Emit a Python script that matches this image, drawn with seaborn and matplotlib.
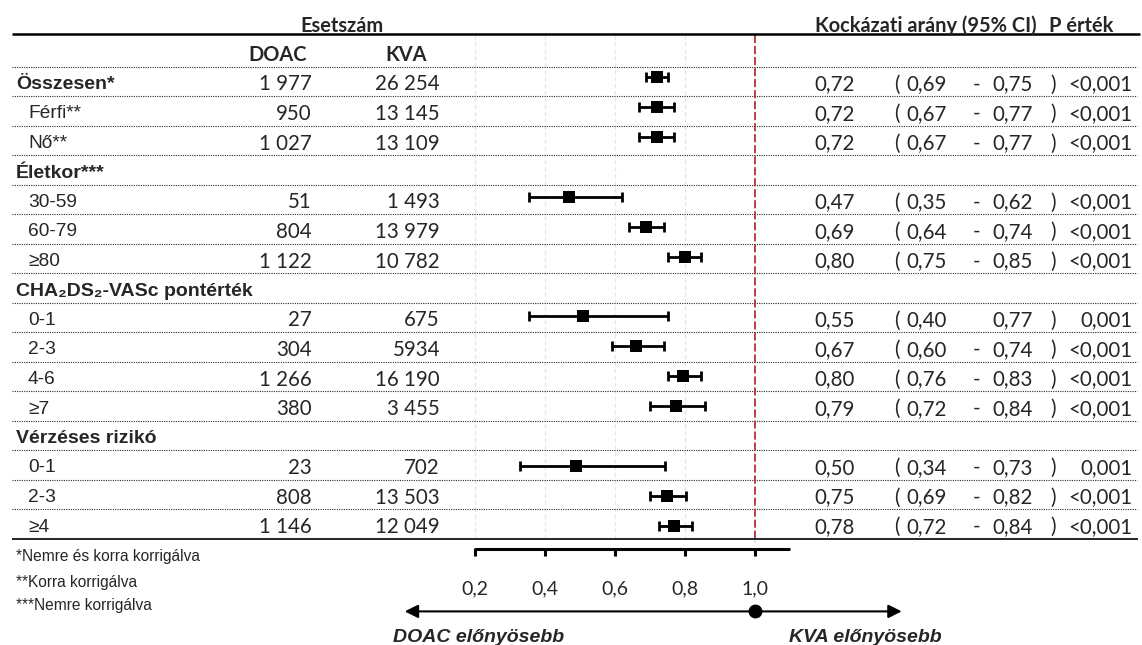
import numpy as np
import matplotlib
matplotlib.use("Agg")
import matplotlib.pyplot as plt
import matplotlib.transforms as mtransforms
import pandas as pd
import seaborn as sns

# ---------------- data ----------------
labels = ["Összesen*", "Férfi**", "Nő**", "Életkor***", "30-59", "60-79", "≥80",
          "CHA₂DS₂-VASc pontérték", "0-1", "2-3", "4-6", "≥7",
          "Vérzéses rizikó", "0-1", "2-3", "≥4"]
bold_rows = [True, False, False, True, False, False, False,
             True, False, False, False, False,
             True, False, False, False]
doac = ["1 977", "950", "1 027", None, "51", "804", "1 122",
        None, "27", "304", "1 266", "380",
        None, "23", "808", "1 146"]
kva = ["26 254", "13 145", "13 109", None, "1 493", "13 979", "10 782",
       None, "675", "5934", "16 190", "3 455",
       None, "702", "13 503", "12 049"]
hr_txt = ["0,72", "0,72", "0,72", None, "0,47", "0,69", "0,80",
          None, "0,55", "0,67", "0,80", "0,79",
          None, "0,50", "0,75", "0,78"]
lo_txt = ["0,69", "0,67", "0,67", None, "0,35", "0,64", "0,75",
          None, "0,40", "0,60", "0,76", "0,72",
          None, "0,34", "0,69", "0,72"]
hi_txt = ["0,75", "0,77", "0,77", None, "0,62", "0,74", "0,85",
          None, "0,77", "0,74", "0,83", "0,84",
          None, "0,73", "0,82", "0,84"]
sep_txt = ["-", "-", "-", None, "-", "-", "-",
           None, "", "-", "-", "-",
           None, "-", "-", "-"]
p_txt = ["<0,001", "<0,001", "<0,001", None, "<0,001", "<0,001", "<0,001",
         None, "0,001", "<0,001", "<0,001", "<0,001",
         None, "0,001", "<0,001", "<0,001"]
# plotted marker positions (as drawn in the figure)
hr = [0.72, 0.72, 0.72, np.nan, 0.47, 0.69, 0.80,
      np.nan, 0.51, 0.66, 0.795, 0.776,
      np.nan, 0.49, 0.75, 0.77]
ci_lo = [0.69, 0.67, 0.67, np.nan, 0.355, 0.64, 0.752,
         np.nan, 0.355, 0.592, 0.752, 0.70,
         np.nan, 0.33, 0.70, 0.726]
ci_hi = [0.752, 0.768, 0.768, np.nan, 0.62, 0.74, 0.846,
         np.nan, 0.752, 0.74, 0.846, 0.858,
         np.nan, 0.745, 0.804, 0.82]
ticks = [0.2, 0.4, 0.6, 0.8, 1.0]
tick_labels = ["0,2", "0,4", "0,6", "0,8", "1,0"]
footnotes = ["*Nemre és korra korrigálva", "**Korra korrigálva", "***Nemre korrigálva"]

# ---------------- layout ----------------
W, H = 1142, 645
sns.set_theme(style="white")
plt.rcParams["font.family"] = ["Liberation Sans", "DejaVu Sans"]
NUMF = ["Lato", "DejaVu Sans"]
NUMSZ = 14.8
HDRSZ = 14.4

fig = plt.figure(figsize=(W / 100, H / 100), dpi=100)
ax = fig.add_axes([0, 0, 1, 1])            # table panel (rows as y units)
axf = fig.add_axes([0, 0, 1, 1])           # forest panel
axf.patch.set_alpha(0)

PX_PER, X0PX, V0 = 350.0, 474.7, 0.2
ROW0, ROWH = 52.0, 29.5          # table row grid
FROW0, FROWH = 47.4, 29.89       # forest row grid

def fx(px):
    return px / W

def ry(py):
    return (py - ROW0) / ROWH

tr = mtransforms.blended_transform_factory(fig.transFigure, ax.transData)
TXT_DY = 3.0 / ROWH   # text baseline nudge

rows = np.arange(1, len(labels) + 1)
df = pd.DataFrame({"row": rows, "hr": hr, "lo": ci_lo, "hi": ci_hi}).dropna()

# grid lines and reference line
for t in ticks[:-1]:
    ax.plot([t, t], [ry(35), ry(539)], color="#e6e6e6", lw=1.0, ls=(0, (3, 2)), zorder=1)
ax.plot([1.0, 1.0], [ry(35), ry(542)], color="#b8312f", lw=1.3, ls=(0, (4.5, 1.6)), zorder=2)

# table lines
ax.plot([fx(12), fx(1140)], [ry(34.3)] * 2, transform=tr, color="black", lw=1.8, solid_capstyle="butt")
ax.plot([fx(12), fx(1138)], [ry(539)] * 2, transform=tr, color="black", lw=1.2, solid_capstyle="butt")
for r in range(0, len(labels)):
    y = r + 0.5
    ax.plot([fx(12), fx(1137)], [y, y], transform=tr, color="#2a2a2a", lw=0.8,
            ls=(0, (1, 1.1)), zorder=1)

# CI + markers on the forest panel
axf.errorbar(df["hr"], df["row"], xerr=[df["hr"] - df["lo"], df["hi"] - df["hr"]],
             fmt="none", ecolor="black", elinewidth=2, capsize=3.6, capthick=2, zorder=4)
sns.scatterplot(data=df, x="hr", y="row", marker="s", s=78, color="black",
                linewidth=0, ax=axf, zorder=5, legend=False)

def T(x, y, s, **kw):
    kw.setdefault("va", "center")
    ax.text(x, y + TXT_DY, s, transform=tr, **kw)

# headers
T(fx(342), ry(22.7), "Esetszám", family=NUMF, fontsize=HDRSZ, fontweight="bold", ha="center")
T(fx(815), ry(22.7), "Kockázati arány (95% CI)", family=NUMF, fontsize=HDRSZ,
  fontweight="bold", ha="left")
T(fx(1049), ry(22.7), "P érték", family=NUMF, fontsize=HDRSZ, fontweight="bold", ha="left")
T(fx(278), 0, "DOAC", family=NUMF, fontsize=HDRSZ, fontweight="bold", ha="center")
T(fx(406), 0, "KVA", family=NUMF, fontsize=HDRSZ, fontweight="bold", ha="center")

# rows
for i, lab in enumerate(labels):
    r = rows[i]
    if bold_rows[i]:
        T(fx(16), r, lab, fontsize=14, fontweight="bold", ha="left")
    else:
        T(fx(28), r, lab, fontsize=13.8, ha="left")
    if doac[i] is not None:
        T(fx(312), r, doac[i], family=NUMF, fontsize=NUMSZ, ha="right")
    if kva[i] is not None:
        T(fx(440), r, kva[i], family=NUMF, fontsize=NUMSZ, ha="right")
    if hr_txt[i] is not None:
        T(fx(855), r, hr_txt[i], family=NUMF, fontsize=NUMSZ, ha="right")
        T(fx(897), r, "(", family=NUMF, fontsize=NUMSZ, ha="center")
        T(fx(947), r, lo_txt[i], family=NUMF, fontsize=NUMSZ, ha="right")
        T(fx(977), r, sep_txt[i], family=NUMF, fontsize=NUMSZ, ha="center")
        T(fx(1033), r, hi_txt[i], family=NUMF, fontsize=NUMSZ, ha="right")
        T(fx(1053), r, ")", family=NUMF, fontsize=NUMSZ, ha="center")
        T(fx(1133), r, p_txt[i], family=NUMF, fontsize=NUMSZ, ha="right")

# footnotes
for fn, py in zip(footnotes, [553.3, 579, 602.7]):
    T(fx(16), ry(py), fn, fontsize=11.2, ha="left")

# bottom scale
ax.plot([0.2, 1.1], [ry(549)] * 2, color="black", lw=2.2, solid_capstyle="butt")
ax.vlines(ticks, ry(548), ry(556), color="black", lw=2.2)
for t, tl in zip(ticks, tick_labels):
    ax.text(t, ry(586) + TXT_DY, tl, family=NUMF, fontsize=14, ha="center", va="center")

ax.annotate("", xy=(1.42, ry(611.4)), xytext=(0.0, ry(611.4)),
            arrowprops=dict(arrowstyle="<|-|>", color="black", lw=1.5,
                            mutation_scale=20, shrinkA=0, shrinkB=0))
ax.plot([1.0], [ry(611.4)], "o", ms=9, color="black")

T(fx(393), ry(635), "DOAC előnyösebb", fontsize=14, fontweight="bold",
  fontstyle="italic", ha="left")
T(fx(789), ry(634.6), "KVA előnyösebb", fontsize=14, fontweight="bold",
  fontstyle="italic", ha="left")

xl = (V0 - X0PX / PX_PER, V0 + (W - X0PX) / PX_PER)
for a in (ax, axf):
    a.set_xlim(*xl)
    a.axis("off")
ax.set_ylim(ry(H), ry(0))
axf.set_ylim((H - FROW0) / FROWH, -FROW0 / FROWH)

fig.savefig("out.png", dpi=100, facecolor="white")
